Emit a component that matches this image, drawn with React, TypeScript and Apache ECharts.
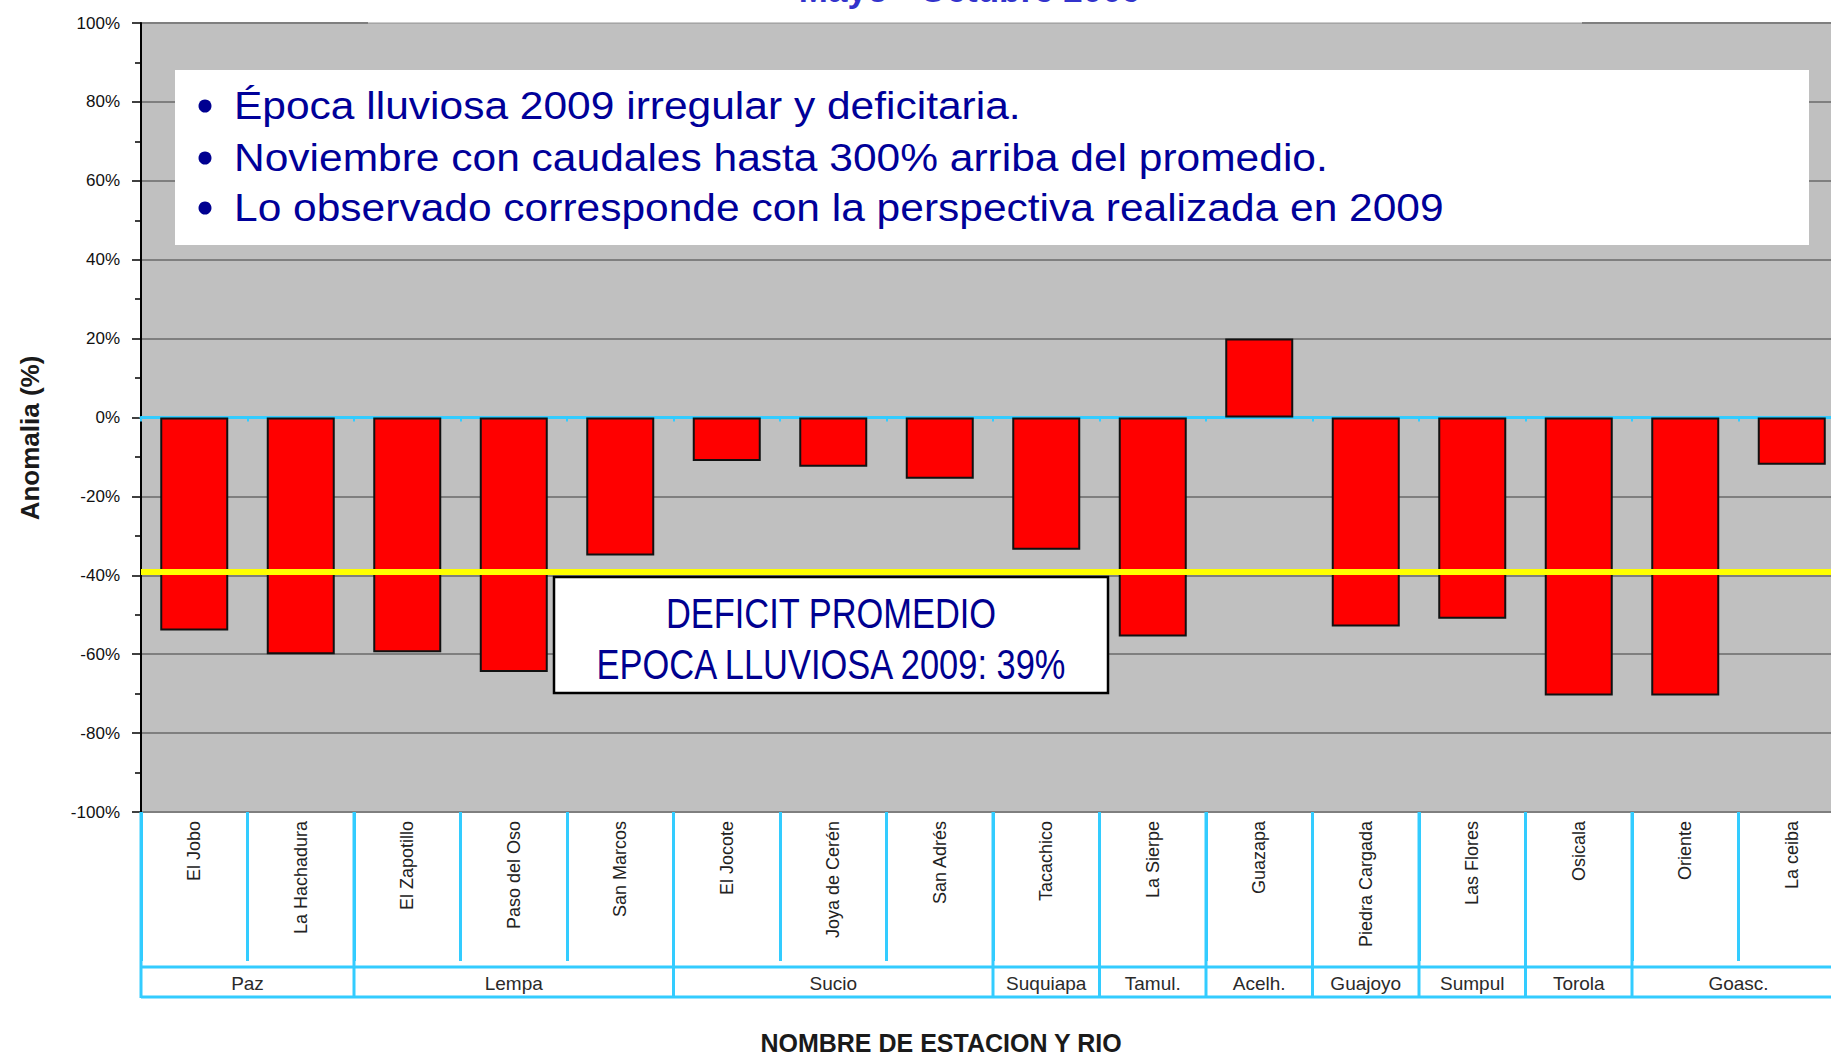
import React, { useEffect, useRef } from "react";
import * as echarts from "echarts";

// ---- data ----
const stations = [
  "El Jobo", "La Hachadura", "El Zapotillo", "Paso del Oso", "San Marcos",
  "El Jocote", "Joya de Cerén", "San Adrés", "Tacachico", "La Sierpe",
  "Guazapa", "Piedra Cargada", "Las Flores", "Osicala", "Oriente", "La ceiba",
];
const anomalies = [
  -54, -60, -59.5, -64.5, -35,
  -11, -12.5, -15.5, -33.5, -55.5,
  20, -53, -51, -70.5, -70.5, -12,
];
const rivers = ["Paz", "Lempa", "Sucio", "Suquiapa", "Tamul.", "Acelh.", "Guajoyo", "Sumpul", "Torola", "Goasc."];
const riverSpans = [2, 3, 3, 1, 1, 1, 1, 1, 1, 2];
const deficitAverage = -39;
const yMin = -100;
const yMax = 100;
const yStep = 20;

const titleText = "Mayo - Octubre 2009";
const bulletLines = [
  "Época lluviosa 2009 irregular y deficitaria.",
  "Noviembre con caudales hasta 300% arriba del promedio.",
  "Lo observado corresponde con la perspectiva realizada en 2009",
];
const deficitLines = ["DEFICIT PROMEDIO", "EPOCA LLUVIOSA 2009: 39%"];
const yAxisName = "Anomalia (%)";
const xAxisName = "NOMBRE DE ESTACION Y RIO";

const FONT = "Liberation Sans, Arial, sans-serif";
const CYAN = "#33CCFF";
const NAVY = "#000090";

export default function App() {
  const ref = useRef<HTMLDivElement>(null);

  useEffect(() => {
    if (!ref.current) return;
    const chart = echarts.init(ref.current, null, { renderer: "svg" });

    const option: any = {
      animation: false,
      backgroundColor: "#ffffff",
      grid: {
        left: 141,
        top: 23,
        width: 1704,
        height: 789,
        show: true,
        backgroundColor: "#C0C0C0",
        borderWidth: 0,
        containLabel: false,
        outerBoundsMode: "none",
      },
      xAxis: [
        {
          type: "category",
          data: stations,
          position: "bottom",
          boundaryGap: true,
          axisLine: { show: true, onZero: true, lineStyle: { color: CYAN, width: 3 } },
          axisTick: { show: true, interval: 0, length: 4, lineStyle: { color: CYAN, width: 2 } },
          axisLabel: { show: false },
          splitLine: { show: false },
          z: 1,
        },
        {
          type: "category",
          data: stations,
          position: "bottom",
          boundaryGap: true,
          axisLine: { show: false, onZero: false },
          axisTick: { show: true, interval: 0, length: 149, lineStyle: { color: CYAN, width: 3 } },
          axisLabel: {
            show: true,
            interval: 0,
            rotate: 90,
            margin: 9,
            fontSize: 18,
            fontFamily: FONT,
            color: "#222222",
          },
          splitLine: { show: false },
        },
      ],
      yAxis: {
        type: "value",
        min: yMin,
        max: yMax,
        interval: yStep,
        axisLine: { show: true, lineStyle: { color: "#000000", width: 2 } },
        axisTick: { show: true, length: 9, lineStyle: { color: "#000000", width: 1.5 } },
        minorTick: { show: true, splitNumber: 2, length: 6, lineStyle: { color: "#000000", width: 1.5 } },
        axisLabel: {
          formatter: (v: number) => `${v}%`,
          fontSize: 17,
          fontFamily: FONT,
          color: "#111111",
          margin: 21,
        },
        splitLine: { show: true, lineStyle: { color: "#7F7F7F", width: 2 } },
      },
      series: [
        {
          type: "bar",
          xAxisIndex: 0,
          data: anomalies,
          barWidth: 68,
          itemStyle: { color: "#FF0000", borderColor: "#111111", borderWidth: 2 },
          emphasis: { disabled: true },
          markLine: {
            silent: true,
            symbol: ["none", "none"],
            label: { show: false },
            lineStyle: { color: "#FFFF00", width: 6, type: "solid" },
            data: [{ yAxis: deficitAverage }],
          },
        },
      ],
    };

    chart.setOption(option);

    // group (river) level of the category axis, placed via the library's scales
    const c0 = chart.convertToPixel({ xAxisIndex: 0 }, stations[0]) as number;
    const c1 = chart.convertToPixel({ xAxisIndex: 0 }, stations[1]) as number;
    const bw = c1 - c0;
    const yBottom = chart.convertToPixel({ yAxisIndex: 0 }, yMin) as number;
    const xStart = c0 - bw / 2;
    const xEnd = xStart + bw * stations.length;

    const groupEls: any[] = [];
    const lineStyle = { stroke: CYAN, lineWidth: 3 };
    groupEls.push({ type: "line", z: 50, shape: { x1: xStart, y1: yBottom + 155, x2: xEnd, y2: yBottom + 155 }, style: lineStyle });
    groupEls.push({ type: "line", z: 50, shape: { x1: xStart, y1: yBottom + 185, x2: xEnd, y2: yBottom + 185 }, style: lineStyle });
    let start = 0;
    const bounds = [0];
    riverSpans.forEach((span, i) => {
      const left = xStart + start * bw;
      const right = xStart + (start + span) * bw;
      groupEls.push({
        type: "text",
        z: 50,
        x: (left + right) / 2,
        y: yBottom + 171,
        style: {
          text: rivers[i],
          align: "center",
          verticalAlign: "middle",
          fontSize: 19,
          fontFamily: FONT,
          fill: "#2a2a2a",
        },
      });
      start += span;
      bounds.push(start);
    });
    bounds.forEach((b) => {
      const x = xStart + b * bw;
      groupEls.push({ type: "line", z: 50, shape: { x1: x, y1: yBottom, x2: x, y2: yBottom + 186 }, style: lineStyle });
    });

    const staticEls: any[] = [
      // faded top strip behind the (cut) title
      { type: "rect", z: 100, shape: { x: 368, y: 0, width: 1214, height: 23.5 }, style: { fill: "rgba(255,255,255,0.6)" } },
      {
        type: "text",
        z: 101,
        x: 970,
        y: -10.5,
        style: { text: titleText, align: "center", verticalAlign: "middle", fontSize: 35, fontWeight: "bold", fontFamily: FONT, fill: "#3333CC" },
      },
      // bullet box
      { type: "rect", z: 100, shape: { x: 175, y: 70, width: 1634, height: 175 }, style: { fill: "#ffffff" } },
      // deficit box
      { type: "rect", z: 100, shape: { x: 554, y: 577, width: 554, height: 116 }, style: { fill: "#ffffff", stroke: "#000000", lineWidth: 2.5 } },
      // axis names
      {
        type: "text",
        z: 101,
        x: 30,
        y: 438,
        rotation: Math.PI / 2,
        style: { text: yAxisName, align: "center", verticalAlign: "middle", fontSize: 26, fontWeight: "bold", fontFamily: FONT, fill: "#1a1a1a" },
      },
      {
        type: "text",
        z: 101,
        x: 941,
        y: 1043,
        style: { text: xAxisName, align: "center", verticalAlign: "middle", fontSize: 25, fontWeight: "bold", fontFamily: FONT, fill: "#1a1a1a" },
      },
    ];

    const bulletYs = [106, 158, 208];
    bulletLines.forEach((t, i) => {
      staticEls.push({ type: "circle", z: 101, shape: { cx: 205, cy: bulletYs[i], r: 6.5 }, style: { fill: NAVY } });
      staticEls.push({
        type: "text",
        z: 101,
        x: 234,
        y: bulletYs[i],
        scaleX: 1.09,
        style: { text: t, align: "left", verticalAlign: "middle", fontSize: 39, fontFamily: FONT, fill: "#000099" },
      });
    });
    const deficitYs = [613, 664];
    deficitLines.forEach((t, i) => {
      staticEls.push({
        type: "text",
        z: 101,
        x: 831,
        y: deficitYs[i],
        scaleX: 0.82,
        style: { text: t, align: "center", verticalAlign: "middle", fontSize: 42, fontFamily: FONT, fill: NAVY },
      });
    });

    chart.setOption({ graphic: [...staticEls, ...groupEls] });

    return () => chart.dispose();
  }, []);

  return (
    <div
      ref={ref}
      style={{ position: "fixed", left: 0, top: 0, width: 1831, height: 1058, background: "#ffffff", overflow: "hidden" }}
    />
  );
}
